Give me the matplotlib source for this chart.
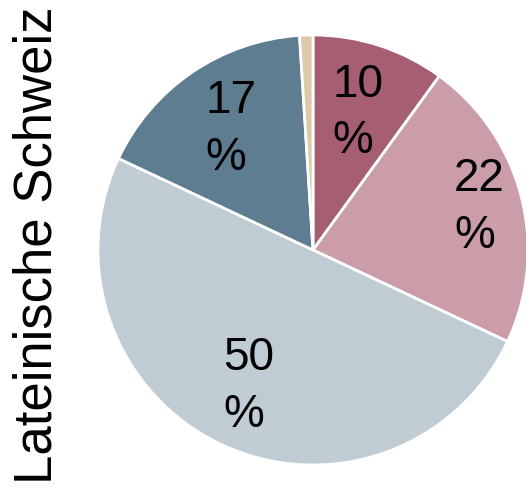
import numpy as np
import matplotlib.pyplot as plt

plt.rcParams['font.family'] = ['Liberation Sans', 'DejaVu Sans']

# slice data, clockwise from the top
values = [10, 22, 50, 17, 1]
labels = ['10\n%', '22\n%', '50\n%', '17\n%', '']
colors = ['#A65E72', '#CA9DA9', '#BFCCD4', '#5E7D91', '#DCC9A8']
label_dist = [0.67, 0.80, 0.70, 0.68, 0.7]

fig = plt.figure(figsize=(5.26, 4.91), dpi=100)
ax = fig.add_axes([98 / 526, 26 / 491, 430 / 526, 430 / 491])

wedges, _ = ax.pie(values, colors=colors, startangle=90, counterclock=False,
                   wedgeprops=dict(edgecolor='white', linewidth=2))

# put the percentage labels in each wedge
for w, lab, d in zip(wedges, labels, label_dist):
    if not lab:
        continue
    mid = np.deg2rad((w.theta1 + w.theta2) / 2)
    ax.text(d * np.cos(mid), d * np.sin(mid), lab, ha='center', va='center',
            multialignment='left', fontsize=33, linespacing=1.38)

ax.set_xlim(-1, 1)
ax.set_ylim(-1, 1)
ax.set_aspect('equal')
ax.axis('off')

fig.text(38 / 526, 0.5, 'Lateinische Schweiz', rotation=90, ha='center',
         va='center', fontsize=38)

fig.savefig('out.png', dpi=100)
